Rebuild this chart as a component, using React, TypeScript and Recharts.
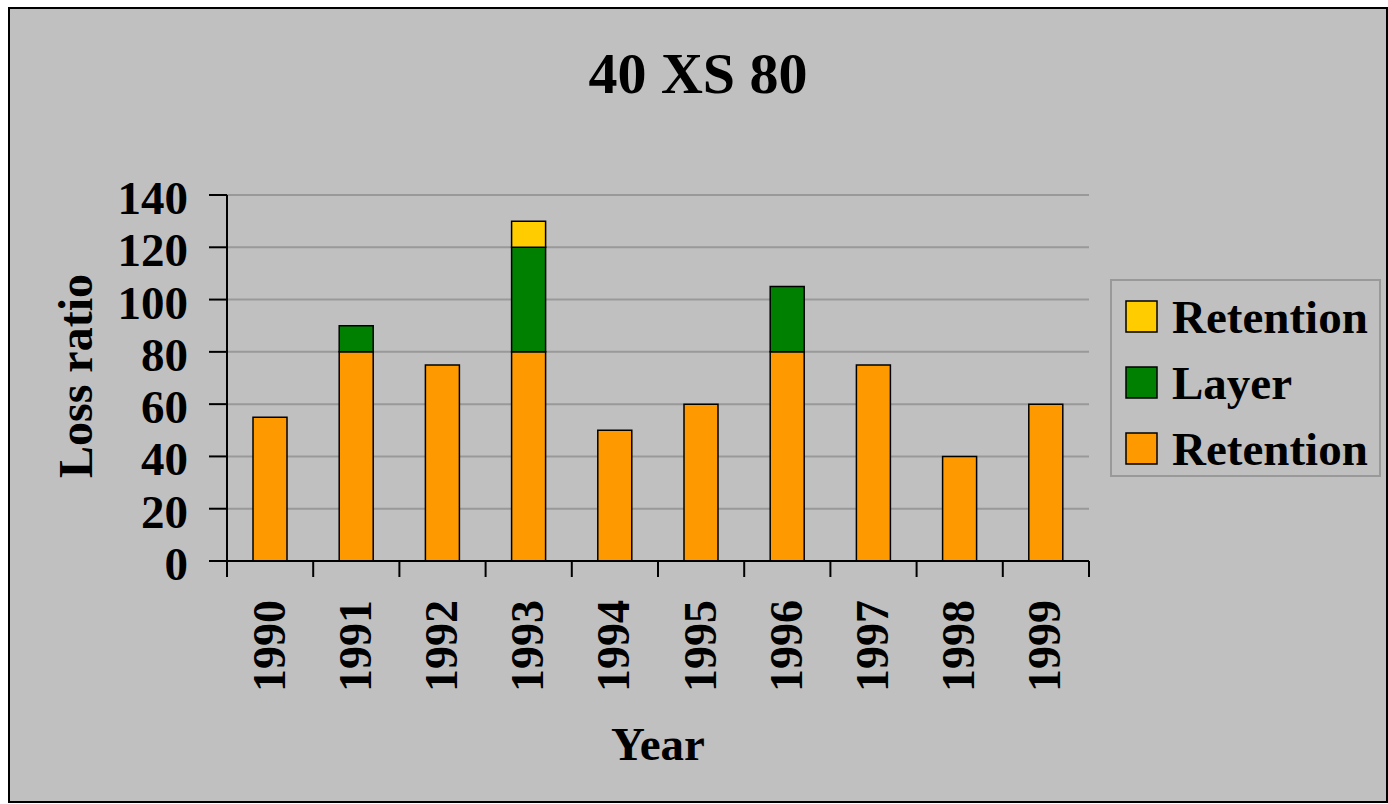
import React from 'react';
import { BarChart, Bar, XAxis, YAxis, CartesianGrid, Legend, Label } from 'recharts';

const years = ['1990', '1991', '1992', '1993', '1994', '1995', '1996', '1997', '1998', '1999'];
const retention = [55, 80, 75, 80, 50, 60, 80, 75, 40, 60];
const layer = [0, 10, 0, 40, 0, 0, 25, 0, 0, 0];
const excess = [0, 0, 0, 10, 0, 0, 0, 0, 0, 0];
const yTicks = [0, 20, 40, 60, 80, 100, 120, 140];

const TITLE = '40 XS 80';
const X_TITLE = 'Year';
const Y_TITLE = 'Loss ratio';

// stacking order bottom -> top
const series = [
  { key: 'retention', name: 'Retention', color: '#FF9900' },
  { key: 'layer', name: 'Layer', color: '#008000' },
  { key: 'excess', name: 'Retention', color: '#FFCC00' },
];

const data = years.map((y, i) => ({
  year: y,
  retention: retention[i],
  layer: layer[i],
  excess: excess[i],
}));

const FONT = '"Liberation Serif", "Times New Roman", Times, serif';
const W = 1376;
const H = 792;
const MARGIN = { top: 186, right: 297, bottom: 140, left: 117 };
const Y_AXIS_W = 100;
const X_AXIS_H = 100;
const PLOT_W = W - MARGIN.left - MARGIN.right - Y_AXIS_W;
const BAND = PLOT_W / years.length;
const X_TICK = 16;

const XTick = (props: any) => {
  const { x, y, payload, index } = props;
  const axisY = y - X_TICK;
  const half = BAND / 2;
  const ty = axisY + 39;
  return (
    <g>
      <line x1={x - half} x2={x - half} y1={axisY} y2={axisY + X_TICK} stroke="#000" strokeWidth={2} />
      {index === years.length - 1 && (
        <line x1={x + half} x2={x + half} y1={axisY} y2={axisY + X_TICK} stroke="#000" strokeWidth={2} />
      )}
      <text
        x={x - 1}
        y={ty}
        transform={`rotate(-90, ${x - 1}, ${ty})`}
        textAnchor="end"
        dominantBaseline="central"
        fontFamily={FONT}
        fontWeight="bold"
        fontSize={46}
        fill="#000"
      >
        {payload.value}
      </text>
    </g>
  );
};

const YTick = (props: any) => {
  const { x, y, payload } = props;
  return (
    <text x={x} y={y} dy={19} textAnchor="end" fontFamily={FONT} fontWeight="bold" fontSize={47} fill="#000">
      {payload.value}
    </text>
  );
};

const LegendContent = () => {
  const items = [...series].reverse();
  return (
    <svg width={271} height={198} style={{ display: 'block' }}>
      <rect x={1} y={1} width={269} height={196} fill="#c0c0c0" stroke="#999" strokeWidth={2} />
      {items.map((it, i) => (
        <g key={i}>
          <rect x={16} y={22 + 66 * i} width={31} height={31} fill={it.color} stroke="#000" strokeWidth={1.5} />
          <text x={62} y={54 + 66 * i} fontFamily={FONT} fontWeight="bold" fontSize={47} fill="#000">
            {it.name}
          </text>
        </g>
      ))}
    </svg>
  );
};

export default function App() {
  return (
    <div
      style={{
        position: 'fixed',
        left: 8,
        top: 7,
        width: 1380,
        height: 796,
        boxSizing: 'border-box',
        border: '2px solid #000',
        background: '#c0c0c0',
      }}
    >
      <svg width={W} height={120} style={{ position: 'absolute', left: 0, top: 0, pointerEvents: 'none' }}>
        <text x={W / 2} y={84} textAnchor="middle" fontFamily={FONT} fontWeight="bold" fontSize={58} fill="#000">
          {TITLE}
        </text>
      </svg>
      <div style={{ position: 'absolute', left: 0, top: 0 }}>
        <BarChart width={W} height={H} data={data} margin={MARGIN} barSize={34}>
          <CartesianGrid horizontal vertical={false} stroke="#999" strokeWidth={2} />
          <XAxis
            dataKey="year"
            height={X_AXIS_H}
            axisLine={{ stroke: '#000', strokeWidth: 2 }}
            tickLine={false}
            tickSize={X_TICK}
            tickMargin={0}
            interval={0}
            tick={<XTick />}
          >
            <Label
              content={(p: any) => {
                const vb = p.viewBox;
                return (
                  <text
                    x={vb.x + vb.width / 2}
                    y={vb.y + 199}
                    textAnchor="middle"
                    fontFamily={FONT}
                    fontWeight="bold"
                    fontSize={47}
                    fill="#000"
                  >
                    {X_TITLE}
                  </text>
                );
              }}
            />
          </XAxis>
          <YAxis
            width={Y_AXIS_W}
            domain={[0, 140]}
            ticks={yTicks}
            interval={0}
            axisLine={{ stroke: '#000', strokeWidth: 2 }}
            tickLine={{ stroke: '#000', strokeWidth: 2 }}
            tickSize={18}
            tickMargin={21}
            tick={<YTick />}
          >
            <Label
              content={(p: any) => {
                const vb = p.viewBox;
                const cx = vb.x - 52;
                const cy = vb.y + vb.height / 2 - 2;
                return (
                  <text
                    x={cx}
                    y={cy}
                    transform={`rotate(-90, ${cx}, ${cy})`}
                    textAnchor="middle"
                    dominantBaseline="central"
                    fontFamily={FONT}
                    fontWeight="bold"
                    fontSize={48}
                    fill="#000"
                  >
                    {Y_TITLE}
                  </text>
                );
              }}
            />
          </YAxis>
          <Legend
            layout="vertical"
            align="center"
            verticalAlign="middle"
            wrapperStyle={{ left: 1100, top: 270, width: 271, height: 198 }}
            content={<LegendContent />}
          />
          {series.map((s) => (
            <Bar
              key={s.key}
              dataKey={s.key}
              name={s.name}
              stackId="a"
              fill={s.color}
              stroke="#000"
              strokeWidth={1.5}
              isAnimationActive={false}
            />
          ))}
        </BarChart>
      </div>
    </div>
  );
}
